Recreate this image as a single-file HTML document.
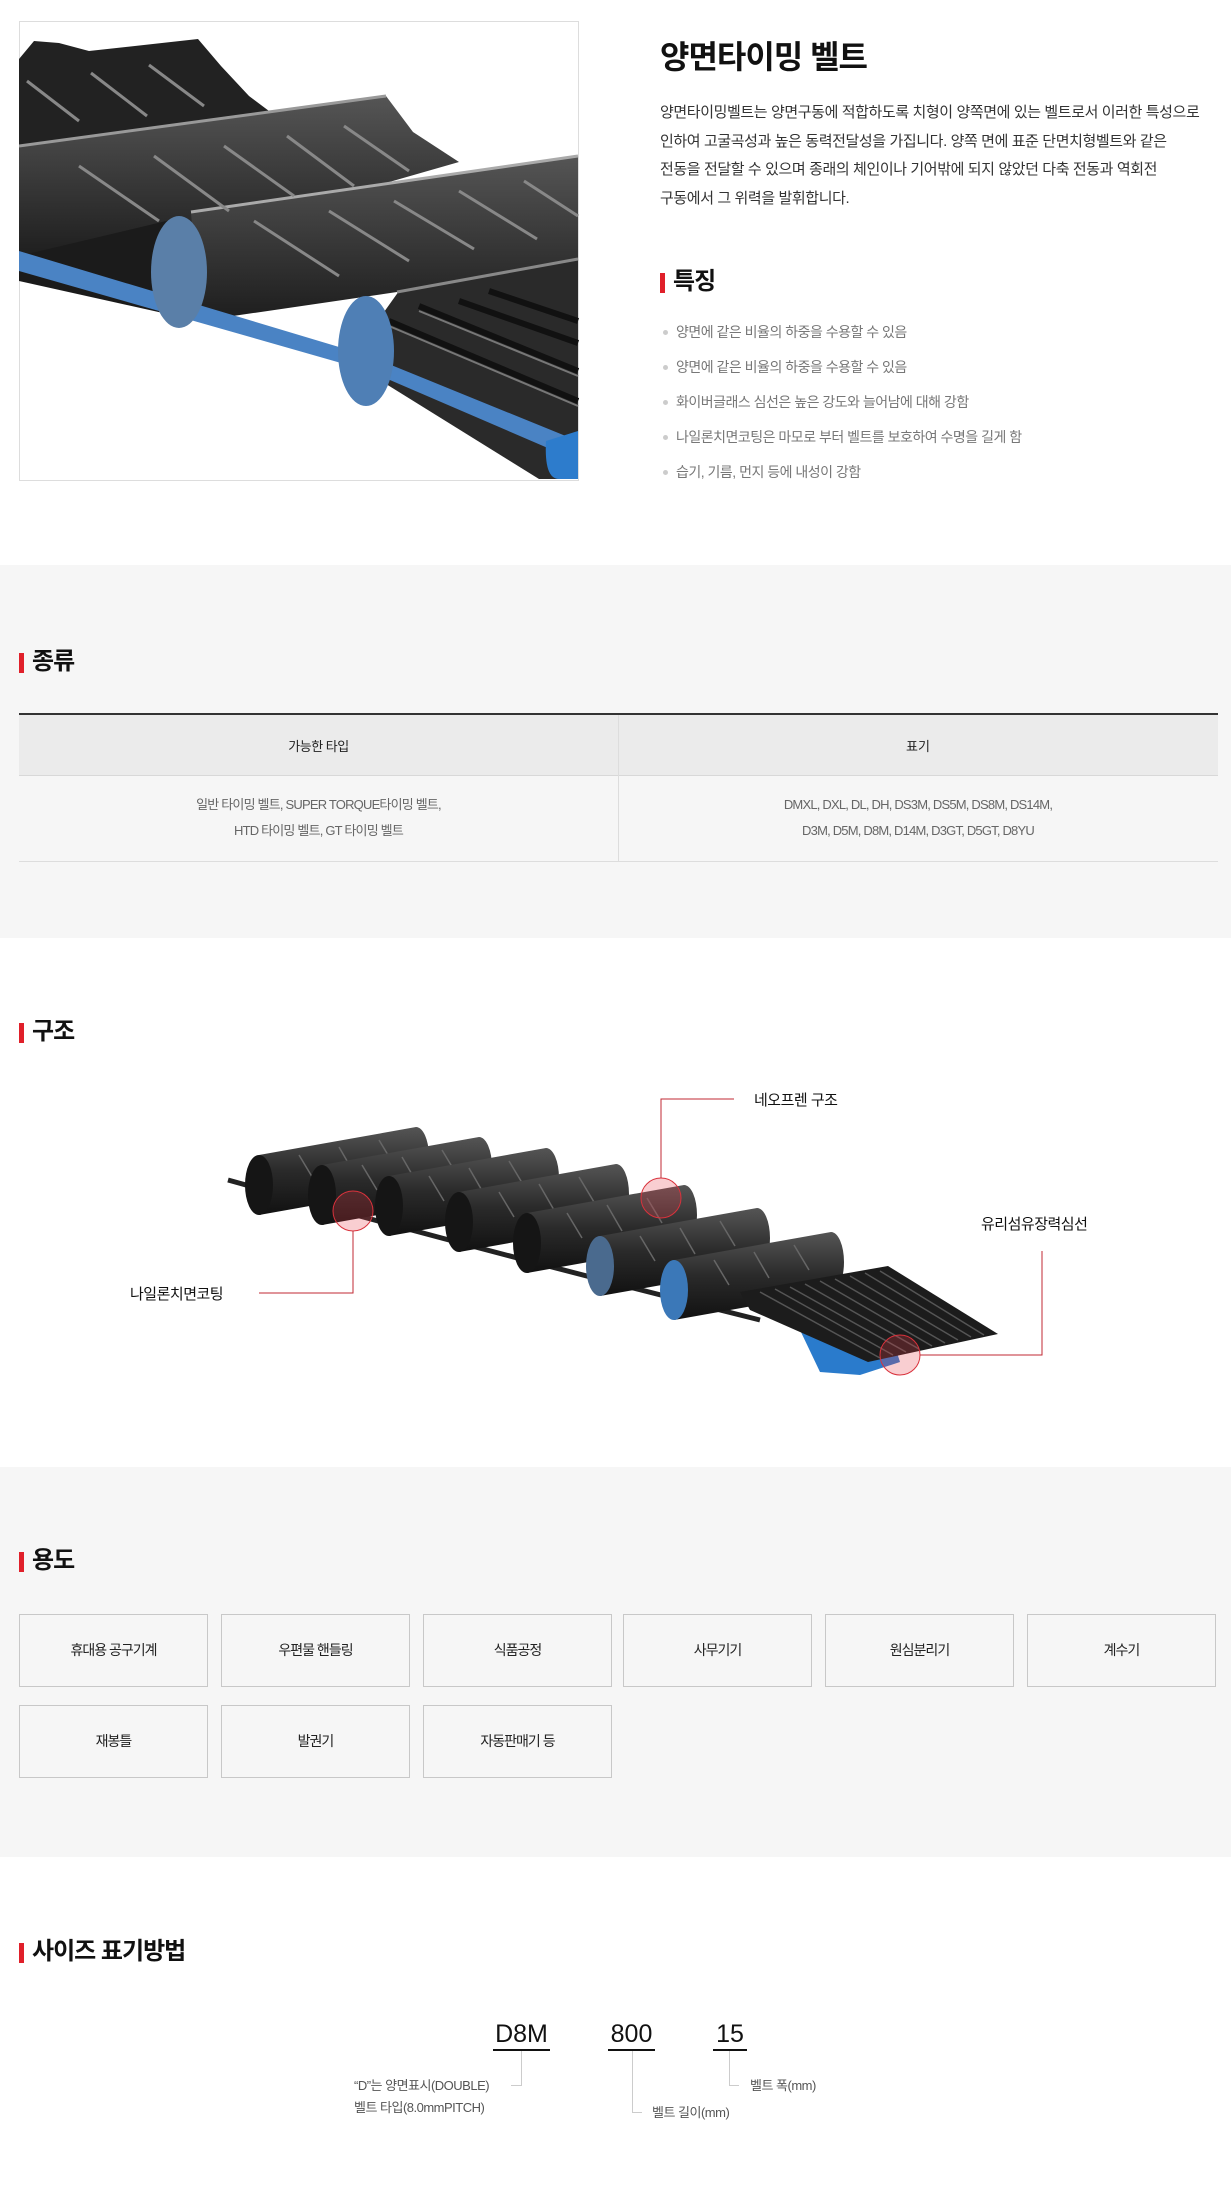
<!DOCTYPE html>
<html><head><meta charset="utf-8"><style>
*{margin:0;padding:0;box-sizing:border-box}
body{width:1231px;height:2208px;position:relative;background:#fff;font-family:"Liberation Sans","Noto Sans CJK KR",sans-serif;color:#333;overflow:hidden}
.a{position:absolute;white-space:nowrap}
.h{position:absolute;font-size:24px;font-weight:bold;color:#111;line-height:30px;padding-left:13px;letter-spacing:-1px}
.h:before{content:"";position:absolute;left:0;top:6px;width:5px;height:20px;background:#e0202a}
.gray{position:absolute;left:0;width:1231px;background:#f6f6f6}
.box{position:absolute;width:189px;height:73px;border:1px solid #c8c8c8;background:#f6f6f6;font-size:14px;color:#222;text-align:center;line-height:71px;letter-spacing:-1px}
.bl{position:absolute;left:663px;font-size:14px;color:#777;letter-spacing:-0.5px;line-height:20px}
.bl:before{content:"";position:absolute;left:0;top:8px;width:5px;height:5px;border-radius:50%;background:#ccc}
.bl span{margin-left:13px}
</style></head><body>

<svg class="a" style="left:19px;top:21px" width="560" height="460" viewBox="0 0 560 460">
<defs><linearGradient id="g1" x1="0" y1="0" x2="0" y2="1"><stop offset="0" stop-color="#555"/><stop offset="1" stop-color="#1d1d1d"/></linearGradient></defs>
<rect x="0.5" y="0.5" width="559" height="459" fill="#fff" stroke="#ddd"/>
<polygon points="0,38 15,20 40,22 70,30 179,18 202,45 230,75 250,90 0,140" fill="#222"/>
<polygon points="0,125 367,75 394,111 440,141 200,210 0,240" fill="url(#g1)"/>
<path d="M0,125 L367,75" stroke="#999" stroke-width="3"/>
<polygon points="0,235 164,196 180,300 0,260" fill="#1b1b1b"/>
<polygon points="380,270 559,230 559,458 520,458 330,340" fill="#2a2a2a"/>
<polygon points="172,191 559,135 559,238 378,271 180,300" fill="url(#g1)"/>
<path d="M172,191 L559,135" stroke="#aaa" stroke-width="3"/>
<path d="M378,271 L559,238" stroke="#888" stroke-width="3"/>
<g stroke="#888" stroke-width="3">
<line x1="8" y1="60" x2="60" y2="100"/><line x1="72" y1="52" x2="128" y2="95"/><line x1="130" y1="44" x2="185" y2="85"/>
<line x1="60" y1="145" x2="140" y2="200"/><line x1="135" y1="135" x2="210" y2="190"/><line x1="205" y1="125" x2="275" y2="175"/><line x1="268" y1="115" x2="335" y2="165"/><line x1="325" y1="105" x2="390" y2="150"/>
<line x1="235" y1="200" x2="320" y2="255"/><line x1="310" y1="190" x2="390" y2="240"/><line x1="375" y1="180" x2="455" y2="228"/><line x1="440" y1="170" x2="518" y2="218"/><line x1="505" y1="160" x2="559" y2="195"/>
</g>
<g stroke="#111" stroke-width="6"><line x1="370" y1="300" x2="559" y2="380"/><line x1="400" y1="285" x2="559" y2="350"/><line x1="440" y1="280" x2="559" y2="322"/><line x1="470" y1="270" x2="559" y2="300"/></g>
<g stroke="#777" stroke-width="2"><line x1="370" y1="305" x2="559" y2="385"/><line x1="400" y1="290" x2="559" y2="355"/></g>
<polygon points="0,230 350,335 559,420 559,440 350,350 0,250" fill="#4a83c4"/>
<ellipse cx="160" cy="251" rx="28" ry="56" fill="#5a7fa8"/>
<ellipse cx="347" cy="330" rx="28" ry="55" fill="#4f7fb5"/>
<path d="M527,420 Q525,458 540,458 L559,458 L559,410 Z" fill="#2d7ccc"/>
</svg>

<div class="a" style="left:660px;top:32px;font-size:32px;font-weight:bold;color:#111;letter-spacing:-1px">양면타이밍 벨트</div>
<div class="a" style="left:660px;top:99px;font-size:15px;line-height:28.5px;color:#333;letter-spacing:-0.4px">양면타이밍벨트는 양면구동에 적합하도록 치형이 양쪽면에 있는 벨트로서 이러한 특성으로<br>인하여 고굴곡성과 높은 동력전달성을 가집니다. 양쪽 면에 표준 단면치형벨트와 같은<br>전동을 전달할 수 있으며 종래의 체인이나 기어밖에 되지 않았던 다축 전동과 역회전<br>구동에서 그 위력을 발휘합니다.</div>
<div class="h" style="left:660px;top:267px">특징</div>
<div class="bl" style="top:322px"><span>양면에 같은 비율의 하중을 수용할 수 있음</span></div>
<div class="bl" style="top:357px"><span>양면에 같은 비율의 하중을 수용할 수 있음</span></div>
<div class="bl" style="top:392px"><span>화이버글래스 심선은 높은 강도와 늘어남에 대해 강함</span></div>
<div class="bl" style="top:427px"><span>나일론치면코팅은 마모로 부터 벨트를 보호하여 수명을 길게 함</span></div>
<div class="bl" style="top:462px"><span>습기, 기름, 먼지 등에 내성이 강함</span></div>

<div class="gray" style="top:565px;height:373px"></div>
<div class="h" style="left:19px;top:647px">종류</div>
<div class="a" style="left:19px;top:713px;width:1199px;height:2px;background:#333"></div>
<div class="a" style="left:19px;top:715px;width:1199px;height:61px;background:#ebebeb;border-bottom:1px solid #d8d8d8"></div>
<div class="a" style="left:618px;top:715px;width:1px;height:147px;background:#ddd"></div>
<div class="a" style="left:19px;top:861px;width:1199px;height:1px;background:#ddd"></div>
<div class="a" style="left:19px;top:736px;width:599px;text-align:center;font-size:13px;color:#222;letter-spacing:-0.5px">가능한 타입</div>
<div class="a" style="left:618px;top:736px;width:600px;text-align:center;font-size:13px;color:#222">표기</div>
<div class="a" style="left:19px;top:792px;width:599px;text-align:center;font-size:13px;line-height:26px;color:#666;letter-spacing:-0.8px">일반 타이밍 벨트, SUPER TORQUE타이밍 벨트,<br>HTD 타이밍 벨트, GT 타이밍 벨트</div>
<div class="a" style="left:618px;top:792px;width:600px;text-align:center;font-size:13px;line-height:26px;color:#666;letter-spacing:-0.8px">DMXL, DXL, DL, DH, DS3M, DS5M, DS8M, DS14M,<br>D3M, D5M, D8M, D14M, D3GT, D5GT, D8YU</div>

<div class="h" style="left:19px;top:1017px">구조</div>
<svg class="a" style="left:0;top:1050px" width="1231" height="360" viewBox="0 1050 1231 360">
<defs>
<linearGradient id="tg" x1="0" y1="0" x2="0" y2="1"><stop offset="0" stop-color="#555"/><stop offset="0.5" stop-color="#2a2a2a"/><stop offset="1" stop-color="#111"/></linearGradient>
</defs>
<path d="M228,1180 Q480,1250 760,1320" stroke="#222" stroke-width="5" fill="none"/>
<polygon points="800,1330 880,1300 900,1362 860,1375 820,1372" fill="#2a7bcc"/>
<g transform="translate(259,1185)"><path d="M0,-30 L157,-58 A13,30 0 0 1 157,2 L0,30 Z" fill="url(#tg)"/><ellipse cx="0" cy="0" rx="14" ry="30" fill="#151515"/><g stroke="#666" stroke-width="1.5"><line x1="40" y1="-30" x2="55" y2="-5"/><line x1="80" y1="-38" x2="95" y2="-12"/><line x1="120" y1="-45" x2="135" y2="-20"/></g></g>
<g transform="translate(322,1195)"><path d="M0,-30 L157,-58 A13,30 0 0 1 157,2 L0,30 Z" fill="url(#tg)"/><ellipse cx="0" cy="0" rx="14" ry="30" fill="#151515"/><g stroke="#666" stroke-width="1.5"><line x1="40" y1="-30" x2="55" y2="-5"/><line x1="80" y1="-38" x2="95" y2="-12"/><line x1="120" y1="-45" x2="135" y2="-20"/></g></g>
<g transform="translate(389,1206)"><path d="M0,-30 L157,-58 A13,30 0 0 1 157,2 L0,30 Z" fill="url(#tg)"/><ellipse cx="0" cy="0" rx="14" ry="30" fill="#151515"/><g stroke="#666" stroke-width="1.5"><line x1="40" y1="-30" x2="55" y2="-5"/><line x1="80" y1="-38" x2="95" y2="-12"/><line x1="120" y1="-45" x2="135" y2="-20"/></g></g>
<g transform="translate(459,1222)"><path d="M0,-30 L157,-58 A13,30 0 0 1 157,2 L0,30 Z" fill="url(#tg)"/><ellipse cx="0" cy="0" rx="14" ry="30" fill="#151515"/><g stroke="#666" stroke-width="1.5"><line x1="40" y1="-30" x2="55" y2="-5"/><line x1="80" y1="-38" x2="95" y2="-12"/><line x1="120" y1="-45" x2="135" y2="-20"/></g></g>
<g transform="translate(527,1243)"><path d="M0,-30 L157,-58 A13,30 0 0 1 157,2 L0,30 Z" fill="url(#tg)"/><ellipse cx="0" cy="0" rx="14" ry="30" fill="#151515"/><g stroke="#666" stroke-width="1.5"><line x1="40" y1="-30" x2="55" y2="-5"/><line x1="80" y1="-38" x2="95" y2="-12"/><line x1="120" y1="-45" x2="135" y2="-20"/></g></g>
<g transform="translate(600,1266)"><path d="M0,-30 L157,-58 A13,30 0 0 1 157,2 L0,30 Z" fill="url(#tg)"/><ellipse cx="0" cy="0" rx="14" ry="30" fill="#4a6a8e"/><g stroke="#666" stroke-width="1.5"><line x1="40" y1="-30" x2="55" y2="-5"/><line x1="80" y1="-38" x2="95" y2="-12"/><line x1="120" y1="-45" x2="135" y2="-20"/></g></g>
<g transform="translate(674,1290)"><path d="M0,-30 L157,-58 A13,30 0 0 1 157,2 L0,30 Z" fill="url(#tg)"/><ellipse cx="0" cy="0" rx="14" ry="30" fill="#3b78b8"/><g stroke="#666" stroke-width="1.5"><line x1="40" y1="-30" x2="55" y2="-5"/><line x1="80" y1="-38" x2="95" y2="-12"/><line x1="120" y1="-45" x2="135" y2="-20"/></g></g>
<polygon points="740,1292 888,1266 998,1334 868,1362 750,1310" fill="#1c1c1c"/>
<g stroke="#555" stroke-width="1.5">
<line x1="760" y1="1292" x2="880" y2="1358"/><line x1="775" y1="1289" x2="893" y2="1355"/><line x1="790" y1="1287" x2="906" y2="1352"/><line x1="805" y1="1284" x2="919" y2="1349"/><line x1="820" y1="1281" x2="932" y2="1346"/><line x1="835" y1="1279" x2="945" y2="1343"/><line x1="850" y1="1276" x2="958" y2="1340"/><line x1="865" y1="1273" x2="971" y2="1337"/><line x1="880" y1="1271" x2="984" y2="1335"/>
</g>
<g fill="rgba(230,60,70,0.25)" stroke="#d9323c" stroke-width="1">
<ellipse cx="353" cy="1211" rx="20" ry="20"/><ellipse cx="661" cy="1198" rx="20" ry="20"/><ellipse cx="900" cy="1355" rx="20" ry="20"/>
</g>
<g stroke="#c02a33" stroke-width="1" fill="none">
<polyline points="661,1178 661,1099 734,1099"/>
<polyline points="353,1231 353,1293 259,1293"/>
<polyline points="1042,1251 1042,1355 920,1355"/>
</g>
</svg>
<div class="a" style="left:754px;top:1089px;font-size:15px;color:#111;letter-spacing:-0.5px">네오프렌 구조</div>
<div class="a" style="left:130px;top:1283px;font-size:15px;color:#111;letter-spacing:-0.5px">나일론치면코팅</div>
<div class="a" style="left:981px;top:1213px;font-size:15px;color:#111;letter-spacing:-0.5px">유리섬유장력심선</div>

<div class="gray" style="top:1467px;height:390px"></div>
<div class="h" style="left:19px;top:1546px">용도</div>
<div class="box" style="left:19px;top:1614px">휴대용 공구기계</div>
<div class="box" style="left:221px;top:1614px">우편물 핸들링</div>
<div class="box" style="left:423px;top:1614px">식품공정</div>
<div class="box" style="left:623px;top:1614px">사무기기</div>
<div class="box" style="left:825px;top:1614px">원심분리기</div>
<div class="box" style="left:1027px;top:1614px">계수기</div>
<div class="box" style="left:19px;top:1705px">재봉틀</div>
<div class="box" style="left:221px;top:1705px">발권기</div>
<div class="box" style="left:423px;top:1705px">자동판매기 등</div>

<div class="h" style="left:19px;top:1937px">사이즈 표기방법</div>
<div class="a" style="left:488px;top:2019px;width:67px;text-align:center;font-size:25px;color:#111;line-height:30px">D8M</div>
<div class="a" style="left:604px;top:2019px;width:55px;text-align:center;font-size:25px;color:#111;line-height:30px">800</div>
<div class="a" style="left:710px;top:2019px;width:40px;text-align:center;font-size:25px;color:#111;line-height:30px">15</div>
<div class="a" style="left:493px;top:2049px;width:57px;height:2px;background:#111"></div>
<div class="a" style="left:608px;top:2049px;width:47px;height:2px;background:#111"></div>
<div class="a" style="left:713px;top:2049px;width:34px;height:2px;background:#111"></div>
<svg class="a" style="left:0;top:2040px" width="1231" height="90" viewBox="0 2040 1231 90"><g stroke="#ccc" fill="none">
<polyline points="521.5,2051 521.5,2085.5 511,2085.5"/><polyline points="632.5,2051 632.5,2112.5 642,2112.5"/><polyline points="729.5,2051 729.5,2085.5 739,2085.5"/></g></svg>
<div class="a" style="left:354px;top:2075px;font-size:13px;line-height:22px;color:#555;letter-spacing:-0.5px">“D”는 양면표시(DOUBLE)<br>벨트 타입(8.0mmPITCH)</div>
<div class="a" style="left:652px;top:2102px;font-size:13px;color:#555;line-height:22px;letter-spacing:-0.5px">벨트 길이(mm)</div>
<div class="a" style="left:750px;top:2075px;font-size:13px;color:#555;line-height:22px;letter-spacing:-0.5px">벨트 폭(mm)</div>
</body></html>
